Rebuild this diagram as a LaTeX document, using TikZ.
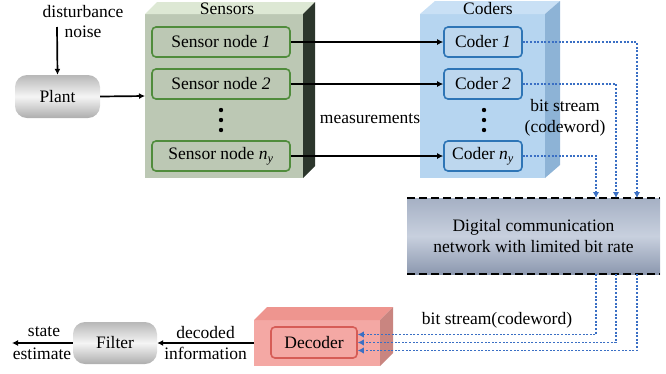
\documentclass[tikz,border=0pt]{standalone}
\usepackage{fontspec}
\setmainfont{Liberation Serif}
\usetikzlibrary{arrows.meta}
\definecolor{sensfront}{RGB}{188,200,180}
\definecolor{senstop}{RGB}{221,232,212}
\definecolor{sensside}{RGB}{44,54,44}
\definecolor{sensline}{RGB}{80,140,60}
\definecolor{codfront}{RGB}{182,213,240}
\definecolor{codtop}{RGB}{201,224,245}
\definecolor{codside}{RGB}{141,179,214}
\definecolor{codline}{RGB}{46,117,182}
\definecolor{codfill}{RGB}{189,215,238}
\definecolor{decfront}{RGB}{244,168,164}
\definecolor{dectop}{RGB}{238,149,143}
\definecolor{decside}{RGB}{201,133,128}
\definecolor{decline}{RGB}{214,92,86}
\definecolor{bitblue}{RGB}{58,111,196}
\definecolor{nettop}{RGB}{165,176,196}
\definecolor{netmid}{RGB}{200,208,222}
\definecolor{netbot}{RGB}{140,152,175}
\begin{document}
\begin{tikzpicture}[x=1pt,y=-1pt,font=\fontsize{17.5}{21}\selectfont,
  face/.style={inner sep=0pt,outer sep=0pt},
  sensnode/.style={draw=sensline,fill=sensfront,line width=1.6pt,rounded corners=4pt,
    minimum width=138pt,minimum height=30pt,inner sep=0pt},
  codnode/.style={draw=codline,fill=codfill,line width=1.6pt,rounded corners=4pt,
    minimum width=78pt,minimum height=30pt,inner sep=0pt},
  greybox/.style={rounded corners=12pt,top color=black!28,bottom color=black!32,
    middle color=black!4,minimum height=43pt,inner sep=0pt},
  flow/.style={line width=1.7pt,-{Latex[length=6pt,width=6pt]}},
  bits/.style={bitblue,line width=1.9pt,dash pattern=on 1.9pt off 1.7pt,
    -{Latex[length=6pt,width=6.5pt]}}]

\useasboundingbox (0,0) rectangle (666,373);

% plant
\coordinate (dist) at (57,27);
\node[greybox,minimum width=85pt] (plant) at (57.5,96.5) {Plant};
\node (distlbl) at (83,12) {disturbance};
\node (noiselbl) at (83,32) {noise};
\draw[flow] (dist) -- (plant.north);

% sensors
\node[face,fill=sensfront,minimum width=158pt,minimum height=164pt] (sens) at (224,96) {};
\fill[senstop] (sens.north west) -- ++(12,-12) -- ++(158,0) -- (sens.north east) -- cycle;
\fill[sensside] (sens.north east) -- ++(12,-12) -- ++(0,164) -- (sens.south east) -- cycle;
\node (senslbl) at (227,9) {Sensors};
\node[sensnode] (s1) at (221,42) {Sensor node \textit{1}};
\node[sensnode] (s2) at (221,84) {Sensor node \textit{2}};
\node[sensnode] (sn) at (221,156) {Sensor node \textit{n\textsubscript{y}}};
\foreach \d in {110,120,130} \fill (221,\d) circle (2.2pt);

% coders
\node[face,fill=codfront,minimum width=125pt,minimum height=164pt] (cod) at (482.5,96) {};
\fill[codtop] (cod.north west) -- ++(15,-13) -- ++(125,0) -- (cod.north east) -- cycle;
\fill[codside] (cod.north east) -- ++(15,-13) -- ++(0,164) -- (cod.south east) -- cycle;
\node (codlbl) at (488,9) {Coders};
\node[codnode] (c1) at (483,42) {Coder \textit{1}};
\node[codnode] (c2) at (483,84) {Coder \textit{2}};
\node[codnode] (cn) at (483,156) {Coder \textit{n\textsubscript{y}}};
\foreach \d in {110,120,130} \fill (484,\d) circle (2.2pt);

\draw[flow] (plant.east) -- (sens.west);
\draw[flow] (s1.east) -- (c1.west);
\draw[flow] (s2.east) -- (c2.west);
\draw[flow] (sn.east) -- (cn.west);
\node (meas) at (370,119) {measurements};
\node[align=center] (bslbl) at (565,118) {bit stream\\(codeword)};

% network
\node[face,top color=nettop,bottom color=netbot,middle color=netmid,
  minimum width=253pt,minimum height=76pt,align=center] (net) at (533.5,236)
  {Digital communication\\network with limited bit rate};
\draw[line width=1.5pt,dash pattern=on 8pt off 4pt] (net.north west) -- (net.north east);
\draw[line width=1.5pt,dash pattern=on 8pt off 4pt] (net.south west) -- (net.south east);
\coordinate (in1) at (637,198);
\coordinate (in2) at (616,198);
\coordinate (in3) at (596,198);
\coordinate (out1) at (596,274);
\coordinate (out2) at (616,274);
\coordinate (out3) at (637,274);
\draw[bits] (c1.east) -| (in1);
\draw[bits] (c2.east) -| (in2);
\draw[bits] (cn.east) -| (in3);

% decoder
\node[face,fill=decfront,minimum width=126pt,minimum height=46pt] (decbox) at (317,343) {};
\fill[dectop] (decbox.north west) -- ++(13,-13) -- ++(126,0) -- (decbox.north east) -- cycle;
\fill[decside] (decbox.north east) -- ++(13,-13) -- ++(0,46) -- (decbox.south east) -- cycle;
\node[draw=decline,fill=decfront,line width=1.6pt,rounded corners=4pt,
  minimum width=86pt,minimum height=31pt,inner sep=0pt] (dec) at (314,342.5) {Decoder};
\draw[bits] (out1) |- ([yshift=8pt]dec.east);
\draw[bits] (out2) |- (dec.east);
\draw[bits] (out3) |- ([yshift=-8pt]dec.east);
\node (bslbl2) at (497,320) {bit stream(codeword)};

% filter
\node[greybox,minimum width=84pt,minimum height=42pt] (filter) at (115,343) {Filter};
\coordinate (est) at (12,343);
\draw[flow] (decbox.west) -- node[above] (declbl) {decoded} node[below] (infolbl) {information} (filter.east);
\draw[flow] (filter.west) -- (est);
\node (statelbl) at (44,332) {state};
\node (estlbl) at (42,354) {estimate};

\end{tikzpicture}
\end{document}
